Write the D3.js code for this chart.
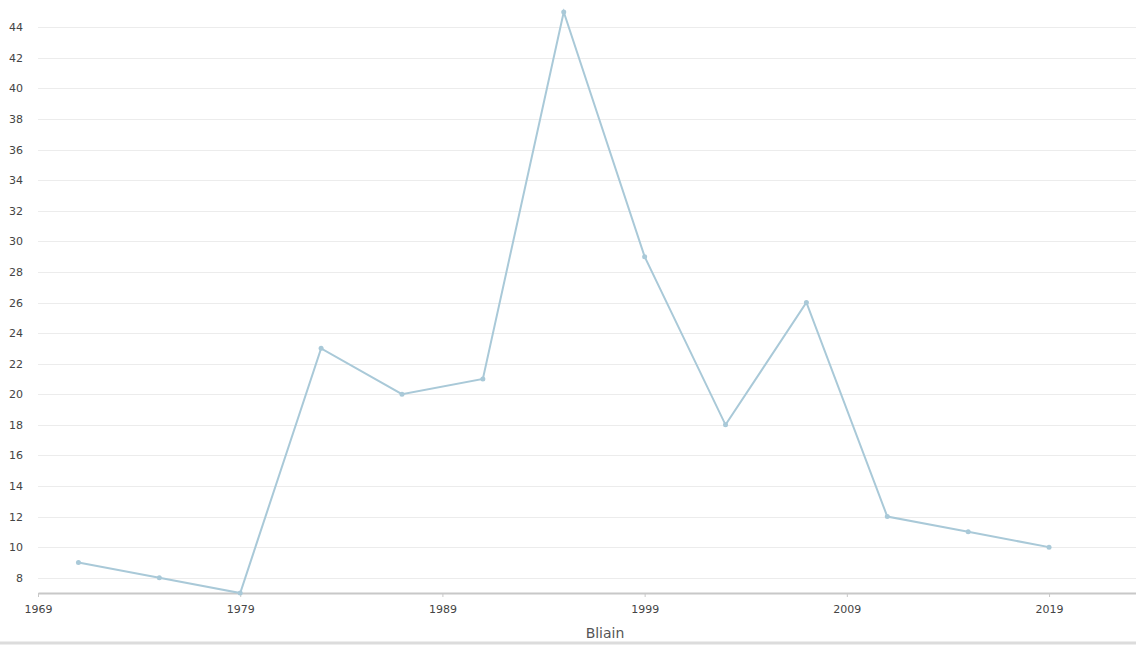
<!DOCTYPE html>
<html>
<head>
<meta charset="utf-8">
<script src="https://cdn.jsdelivr.net/npm/d3@7"></script>
<style>
    body { margin: 0; background: #fff; font-family: "DejaVu Sans", Verdana, sans-serif; }
    svg { display: block; }
</style>
</head>
<body>
<svg id="chart" width="1136" height="645"></svg>
<script>
const years = [1971, 1975, 1979, 1983, 1987, 1991, 1995, 1999, 2003, 2007, 2011, 2015, 2019]
const values = [9, 8, 7, 23, 20, 21, 45, 29, 18, 26, 12, 11, 10]
const xTicks = [1969, 1979, 1989, 1999, 2009, 2019]
const yTicks = [8, 10, 12, 14, 16, 18, 20, 22, 24, 26, 28, 30, 32, 34, 36, 38, 40, 42, 44]
const xLabel = 'Bliain'

const width = 1136, height = 645
const plotLeft = 38, plotRight = 1136, plotTop = 12, plotBottom = 593
const lineColour = '#a9c9d8'

const svg = d3.select('#chart')

const x = d3.scaleLinear().domain([1969, 2023.3]).range([plotLeft, plotRight])
const y = d3.scaleLinear().domain([7, 45]).range([plotBottom, plotTop])

// grid lines
svg.append('g')
    .selectAll('line')
    .data(yTicks)
    .join('line')
    .attr('x1', plotLeft)
    .attr('x2', plotRight)
    .attr('y1', d => Math.round(y(d)) + 0.5)
    .attr('y2', d => Math.round(y(d)) + 0.5)
    .attr('stroke', '#ececec')
    .attr('stroke-width', 1)

// y axis labels
svg.append('g')
    .attr('transform', `translate(${plotLeft}, 0)`)
    .call(d3.axisLeft(y).tickValues(yTicks).tickSize(0).tickPadding(15))
    .call(g => {
        g.select('.domain').remove()
        g.selectAll('text').attr('fill', '#444').style('font-size', '11px').style('font-family', '"DejaVu Sans", Verdana, sans-serif')
    })

// x axis
svg.append('g')
    .attr('transform', `translate(0, ${plotBottom})`)
    .call(d3.axisBottom(x).tickValues(xTicks).tickFormat(d3.format('d')).tickSize(4).tickSizeOuter(0).tickPadding(8))
    .call(g => {
        g.select('.domain').attr('stroke', '#c8c8c8').attr('stroke-width', 2)
        g.selectAll('.tick line').attr('stroke', '#c8c8c8')
        g.selectAll('text').attr('fill', '#444').style('font-size', '11px').style('font-family', '"DejaVu Sans", Verdana, sans-serif')
    })

svg.append('text')
    .attr('x', 605)
    .attr('y', 638)
    .attr('text-anchor', 'middle')
    .attr('fill', '#555')
    .style('font-size', '14px')
    .text(xLabel)

// bottom separator
svg.append('line')
    .attr('x1', 0).attr('x2', width)
    .attr('y1', 643).attr('y2', 643)
    .attr('stroke', '#dcdcdc').attr('stroke-width', 3)

const data = years.map((d, i) => ({ year: d, value: values[i] }))

svg.append('path')
    .datum(data)
    .attr('fill', 'none')
    .attr('stroke', lineColour)
    .attr('stroke-width', 2)
    .attr('d', d3.line().x(d => x(d.year)).y(d => y(d.value)))

svg.append('g')
    .selectAll('circle')
    .data(data)
    .join('circle')
    .attr('cx', d => x(d.year))
    .attr('cy', d => y(d.value))
    .attr('r', 2.5)
    .attr('fill', lineColour)
</script>
</body>
</html>
